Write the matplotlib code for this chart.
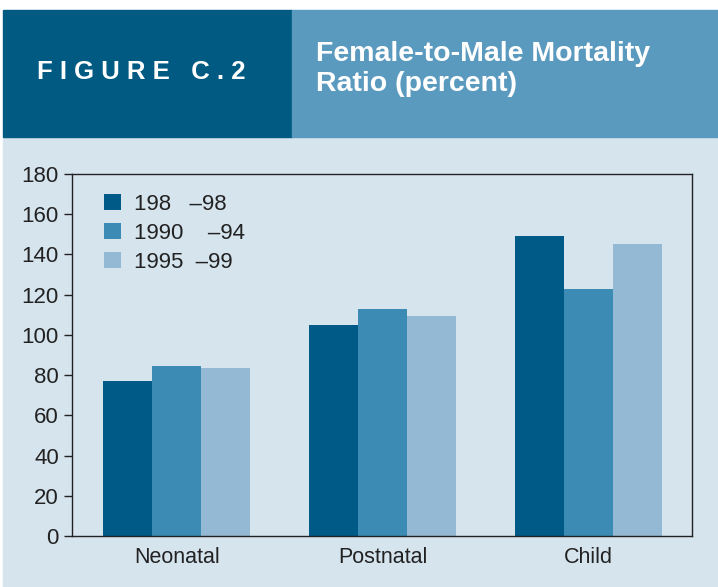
import numpy as np
import matplotlib.pyplot as plt
from matplotlib.patches import Rectangle

categories = ["Neonatal", "Postnatal", "Child"]
series_labels = ["198   \u201398", "1990    \u201394", "1995  \u201399"]
v_first = [77, 105, 149]
v_second = [84.5, 113, 123]
v_third = [83.5, 109.5, 145]
yticks = [0, 20, 40, 60, 80, 100, 120, 140, 160, 180]

colors = ["#005a87", "#3b8bb4", "#94b9d4"]
bg = "#d6e4ee"
font = ["Liberation Sans", "DejaVu Sans"]
plt.rcParams["font.family"] = font

fig = plt.figure(figsize=(7.18, 5.87), dpi=100)
W, H = 718, 587
fig.patches.append(Rectangle((3 / W, 0), 1, 450 / H, transform=fig.transFigure,
                             color=bg, zorder=-5))
fig.patches.append(Rectangle((3 / W, (H - 137) / H), 289 / W, 127 / H,
                             transform=fig.transFigure, color="#005a82", zorder=-5))
fig.patches.append(Rectangle((292 / W, (H - 137) / H), 1, 127 / H,
                             transform=fig.transFigure, color="#5b9abf", zorder=-5))
fig.text(37 / W, (H - 72) / H, "F I G U R E   C . 2", color="white", fontsize=18.5,
         fontweight="bold", va="center")
fig.text(316 / W, (H - 69) / H, "Female-to-Male Mortality\nRatio (percent)",
         color="white", fontsize=20.5, fontweight="bold", va="center",
         linespacing=1.2)

ax = fig.add_axes([72 / W, (H - 536) / H, 620 / W, 362 / H])
ax.set_facecolor(bg)
x = np.arange(len(categories))
w = 0.238
for i, (vals, col, lab) in enumerate(zip([v_first, v_second, v_third], colors, series_labels)):
    ax.bar(x + (i - 1) * w, vals, width=w, color=col, label=lab)

ax.set_xlim(-0.51, 2.505)
ax.set_ylim(0, 180)
ax.set_yticks(yticks)
ax.set_xticks(x)
ax.set_xticklabels(categories)
ax.tick_params(axis="y", length=6, width=1, labelsize=16, direction="out",
               color="#222222", labelcolor="#222222")
ax.tick_params(axis="x", length=0, labelsize=15.5, pad=8, labelcolor="#222222")
for s in ax.spines.values():
    s.set_color("#222222")
    s.set_linewidth(1)

leg = ax.legend(loc="upper left", bbox_to_anchor=(0.02, 1.0), frameon=False,
                fontsize=16, handlelength=0.75, handleheight=0.75,
                handletextpad=0.6, labelspacing=0.35)
for t in leg.get_texts():
    t.set_color("#222222")

fig.savefig("out.png", dpi=100, facecolor="white")
